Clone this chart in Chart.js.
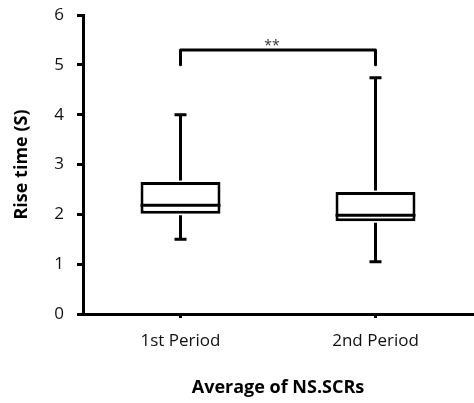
<!DOCTYPE html>
<html>
<head>
<meta charset="utf-8">
<script src="https://cdn.jsdelivr.net/npm/chart.js@4/dist/chart.umd.min.js"></script>
<style>
  html, body { margin: 0; padding: 0; background: #fff; }
  #wrap { width: 474px; height: 403px; }
</style>
</head>
<body>
<div id="wrap"><canvas id="riseChart"></canvas></div>
<script>
const categories = ["1st Period", "2nd Period"];
const whiskerLow = [1.5, 1.05];
const quartile1 = [2.01, 1.86];
const medians = [2.18, 1.98];
const quartile3 = [2.65, 2.45];
const whiskerHigh = [4.0, 4.74];

const bracketTop = 5.3;
const bracketFoot = 5.0;
const sigLabel = "**";

const fontFamily = "'Open Sans', sans-serif";

// medians, whiskers and the significance bracket on top of the boxes
const boxExtras = {
  id: "boxExtras",
  afterDatasetsDraw(chart) {
    const ctx = chart.ctx;
    const x = chart.scales.x;
    const y = chart.scales.y;
    const bars = chart.getDatasetMeta(0).data;
    ctx.save();
    ctx.strokeStyle = "#000";
    ctx.lineWidth = 3;
    ctx.lineCap = "butt";
    bars.forEach((bar, i) => {
      const half = bar.width / 2;
      const cap = 6;
      const yQ1 = y.getPixelForValue(quartile1[i]);
      const yQ3 = y.getPixelForValue(quartile3[i]);
      const yMed = y.getPixelForValue(medians[i]);
      const yLo = y.getPixelForValue(whiskerLow[i]);
      const yHi = y.getPixelForValue(whiskerHigh[i]);

      ctx.beginPath();
      ctx.moveTo(bar.x - half, yMed);
      ctx.lineTo(bar.x + half, yMed);
      // upper whisker
      ctx.moveTo(bar.x, yQ3 - 1.5);
      ctx.lineTo(bar.x, yHi);
      ctx.moveTo(bar.x - cap, yHi);
      ctx.lineTo(bar.x + cap, yHi);
      // lower whisker
      ctx.moveTo(bar.x, yQ1 + 1.5);
      ctx.lineTo(bar.x, yLo);
      ctx.moveTo(bar.x - cap, yLo);
      ctx.lineTo(bar.x + cap, yLo);
      ctx.stroke();
    });

    const xa = x.getPixelForValue(0);
    const xb = x.getPixelForValue(1);
    const yTop = y.getPixelForValue(bracketTop);
    const yFoot = y.getPixelForValue(bracketFoot);
    ctx.lineJoin = "round";
    ctx.lineCap = "round";
    ctx.beginPath();
    ctx.moveTo(xa, yFoot);
    ctx.lineTo(xa, yTop);
    ctx.lineTo(xb, yTop);
    ctx.lineTo(xb, yFoot);
    ctx.stroke();

    ctx.fillStyle = "#333";
    ctx.font = "14px " + fontFamily;
    ctx.textAlign = "center";
    ctx.textBaseline = "bottom";
    ctx.fillText(sigLabel, (xa + xb) / 2 - 6, yTop + 3);
    ctx.restore();
  }
};

new Chart(document.getElementById("riseChart"), {
  type: "bar",
  data: {
    labels: categories,
    datasets: [{
      data: quartile1.map((q, i) => [q, quartile3[i]]),
      backgroundColor: "#fff",
      borderColor: "#000",
      borderWidth: 3,
      borderSkipped: false,
      barPercentage: 0.41,
      categoryPercentage: 1
    }]
  },
  options: {
    responsive: true,
    maintainAspectRatio: false,
    animation: false,
    layout: { padding: { top: 15, right: 1, left: 0, bottom: 0 } },
    plugins: {
      legend: { display: false },
      tooltip: { enabled: false }
    },
    scales: {
      x: {
        offset: true,
        grid: {
          offset: false,
          drawOnChartArea: false,
          drawTicks: true,
          tickLength: 4,
          color: "#000",
          lineWidth: 3
        },
        border: { color: "#000", width: 3 },
        ticks: {
          color: "#111",
          font: { family: fontFamily, size: 17 },
          padding: 13
        },
        title: {
          display: true,
          text: "Average of NS.SCRs",
          color: "#000",
          font: { family: fontFamily, size: 18, weight: "bold" },
          padding: { top: 0, bottom: 4 }
        },
        afterFit(scale) {
          scale.height = 89;
          scale.paddingLeft = 0;
          scale.paddingRight = 0;
        }
      },
      y: {
        min: 0,
        max: 6,
        grid: {
          drawOnChartArea: false,
          drawTicks: true,
          tickLength: 6,
          color: "#000",
          lineWidth: 3
        },
        border: { color: "#000", width: 3 },
        ticks: {
          stepSize: 1,
          color: "#111",
          font: { family: fontFamily, size: 17 },
          padding: 13
        },
        title: {
          display: true,
          text: "Rise time (S)",
          color: "#000",
          font: { family: fontFamily, size: 18, weight: "bold" },
          padding: { top: 11, bottom: 0 }
        },
        afterFit(scale) {
          scale.width = 83;
          scale.paddingTop = 0;
          scale.paddingBottom = 0;
        }
      }
    }
  },
  plugins: [boxExtras]
});
</script>
</body>
</html>
